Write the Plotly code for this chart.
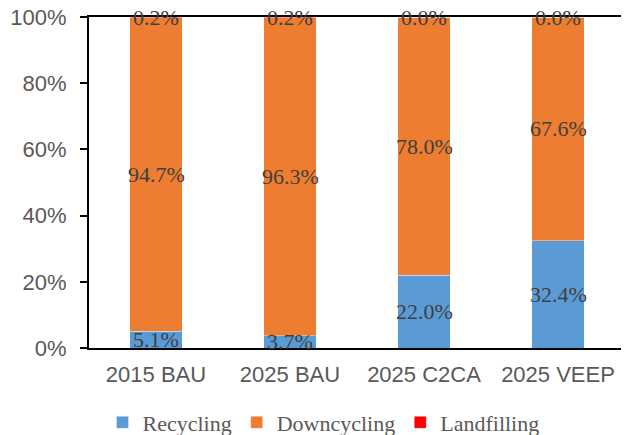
import plotly.graph_objects as go

categories = ["2015 BAU", "2025 BAU", "2025 C2CA", "2025 VEEP"]
recycling = [5.1, 3.7, 22.0, 32.4]
downcycling = [94.7, 96.3, 78.0, 67.6]
landfilling = [0.2, 0.2, 0.0, 0.0]
series = [("Recycling", recycling, "#5B9BD5"),
          ("Downcycling", downcycling, "#ED7D31"),
          ("Landfilling", landfilling, "#FF0000")]
y_ticks = [0, 20, 40, 60, 80, 100]

fig = go.Figure()
for name, vals, col in series:
    fig.add_trace(go.Bar(x=categories, y=vals, name=name, marker_color=col,
                         marker_line=dict(width=0.6, color="rgba(255,255,255,0.6)")))

# data labels centred in each segment (normalised to 100%)
for i, cat in enumerate(categories):
    total = sum(s[1][i] for s in series)
    base = 0.0
    for name, vals, col in series:
        v = vals[i] / total * 100
        fig.add_annotation(x=cat, y=base + v / 2, text=f"{vals[i]:.1f}%",
                           showarrow=False, xanchor="center", yanchor="middle",
                           font=dict(family="Liberation Serif", size=22, color="#404040"))
        base += v

fig.update_layout(
    barmode="stack", barnorm="percent", bargap=0.61,
    width=621, height=427,
    margin=dict(l=81, r=4, t=9, b=87, autoexpand=False),
    paper_bgcolor="white", plot_bgcolor="white",
    showlegend=True,
    legend=dict(orientation="h", x=0.4375, xanchor="center",
                y=-0.225, yanchor="middle", itemwidth=30,
                font=dict(family="Liberation Serif", size=22, color="#595959"),
                traceorder="normal"),
)
fig.update_yaxes(range=[0, 100], tickvals=y_ticks,
                 ticktext=[f"{t}%" for t in y_ticks],
                 showgrid=False, zeroline=False, automargin=False,
                 showline=True, linecolor="black", linewidth=2, mirror=True,
                 ticks="outside", ticklen=7, tickcolor="black", tickwidth=2,
                 ticklabelstandoff=9, ticklabeloverflow="allow",
                 tickfont=dict(family="Liberation Sans", size=22, color="#595959"))
fig.update_xaxes(showgrid=False, showline=True, linecolor="black", linewidth=2,
                 mirror=True, ticks="", automargin=False, tickangle=0,
                 ticklabelstandoff=6, ticklabeloverflow="allow",
                 tickfont=dict(family="Liberation Sans", size=22, color="#595959"))

fig.write_html("out.html")
